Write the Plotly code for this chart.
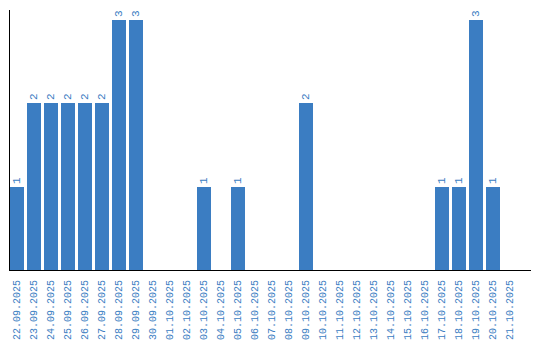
import plotly.graph_objects as go

dates = ["22.09.2025","23.09.2025","24.09.2025","25.09.2025","26.09.2025","27.09.2025",
         "28.09.2025","29.09.2025","30.09.2025","01.10.2025","02.10.2025","03.10.2025",
         "04.10.2025","05.10.2025","06.10.2025","07.10.2025","08.10.2025","09.10.2025",
         "10.10.2025","11.10.2025","12.10.2025","13.10.2025","14.10.2025","15.10.2025",
         "16.10.2025","17.10.2025","18.10.2025","19.10.2025","20.10.2025","21.10.2025"]
counts = [1,2,2,2,2,2,3,3,0,0,0,1,0,1,0,0,0,2,0,0,0,0,0,0,0,1,1,3,1,0]

positions = list(range(len(dates)))
labels = [str(v) if v else "" for v in counts]

blue = "#3b7dc2"
font_family = "Liberation Mono"
fig = go.Figure(go.Bar(
    x=positions, y=counts, width=0.82,
    marker=dict(color=blue, line=dict(width=0)),
    text=labels, textposition="outside", textangle=-90,
    textfont=dict(family=font_family, size=11, color=blue),
    cliponaxis=False,
))
fig.update_layout(
    width=540, height=340,
    margin=dict(l=10, r=9, t=10, b=70, autoexpand=False),
    paper_bgcolor="white", plot_bgcolor="white",
    showlegend=False, bargap=0,
    xaxis=dict(range=[-0.41, 30.24], tickmode="array", tickvals=positions, ticktext=dates,
               tickangle=-90, tickfont=dict(family=font_family, size=10, color=blue),
               showgrid=False, zeroline=False, showline=True, linecolor="black", linewidth=1,
               ticks="", ticklabelstandoff=5, automargin=False, fixedrange=True),
    yaxis=dict(range=[0, 3.12], showticklabels=False, showgrid=False, zeroline=False,
               showline=True, linecolor="black", linewidth=1, ticks="", automargin=False),
)
fig.write_html("out.html")
